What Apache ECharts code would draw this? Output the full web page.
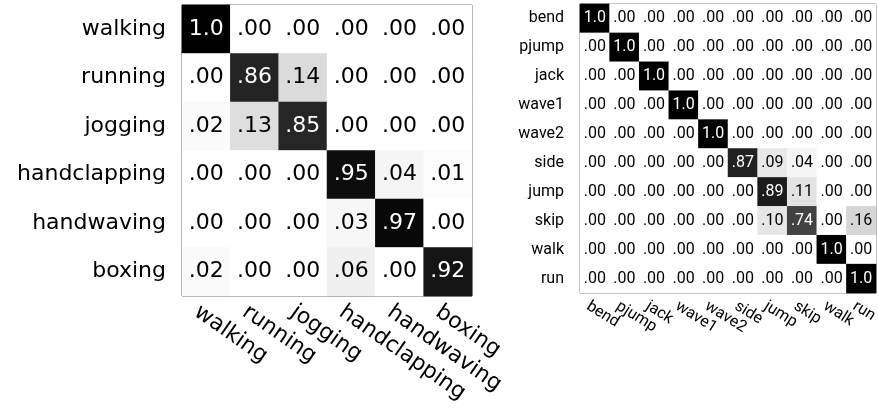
<!DOCTYPE html>
<html>
<head>
<meta charset="utf-8">
<script src="https://cdn.jsdelivr.net/npm/echarts@6/dist/echarts.min.js"></script>
<style>
html, body { margin: 0; background: #fff; }
#chart { width: 878px; height: 408px; }
</style>
</head>
<body>
<div id="chart"></div>
<script>
// KTH actions (left)
const kthClasses = ['walking', 'running', 'jogging', 'handclapping', 'handwaving', 'boxing'];
const kthMatrix = [
  [1.0, .00, .00, .00, .00, .00],
  [.00, .86, .14, .00, .00, .00],
  [.02, .13, .85, .00, .00, .00],
  [.00, .00, .00, .95, .04, .01],
  [.00, .00, .00, .03, .97, .00],
  [.02, .00, .00, .06, .00, .92]
];

// Weizmann actions (right)
const weizClasses = ['bend', 'pjump', 'jack', 'wave1', 'wave2', 'side', 'jump', 'skip', 'walk', 'run'];
const weizMatrix = [
  [1.0, .00, .00, .00, .00, .00, .00, .00, .00, .00],
  [.00, 1.0, .00, .00, .00, .00, .00, .00, .00, .00],
  [.00, .00, 1.0, .00, .00, .00, .00, .00, .00, .00],
  [.00, .00, .00, 1.0, .00, .00, .00, .00, .00, .00],
  [.00, .00, .00, .00, 1.0, .00, .00, .00, .00, .00],
  [.00, .00, .00, .00, .00, .87, .09, .04, .00, .00],
  [.00, .00, .00, .00, .00, .00, .89, .11, .00, .00],
  [.00, .00, .00, .00, .00, .00, .10, .74, .00, .16],
  [.00, .00, .00, .00, .00, .00, .00, .00, 1.0, .00],
  [.00, .00, .00, .00, .00, .00, .00, .00, .00, 1.0]
];

const fmt = v => v >= 1 ? '1.0' : '.' + String(Math.round(v * 100)).padStart(2, '0');

const toCells = m => {
  const out = [];
  m.forEach((row, r) => row.forEach((v, c) => {
    out.push({ value: [c, r, v], label: { color: v > 0.5 ? '#fff' : '#000' } });
  }));
  return out;
};

const hidden = { axisLine: { show: false }, axisTick: { show: false }, splitLine: { show: false } };

const chart = echarts.init(document.getElementById('chart'));

chart.setOption({
  animation: false,
  grid: [
    { left: 182, top: 5, width: 290, height: 291, outerBoundsMode: 'none', show: true, borderColor: '#444', borderWidth: 1, backgroundColor: 'transparent' },
    { left: 580, top: 4, width: 296, height: 289, outerBoundsMode: 'none', show: true, borderColor: '#666', borderWidth: 1, backgroundColor: 'transparent' },
    // same grids nudged left, only used to place the slanted column labels
    { left: 172, top: 5, width: 290, height: 291, outerBoundsMode: 'none' },
    { left: 573, top: 4, width: 296, height: 289, outerBoundsMode: 'none' }
  ],
  visualMap: {
    show: false,
    min: 0,
    max: 1,
    dimension: 2,
    seriesIndex: [0, 1],
    inRange: { color: ['#ffffff', '#000000'] }
  },
  xAxis: [
    { gridIndex: 0, type: 'category', data: kthClasses, ...hidden, axisLabel: { show: false } },
    { gridIndex: 1, type: 'category', data: weizClasses, ...hidden, axisLabel: { show: false } },
    {
      gridIndex: 2, type: 'category', data: kthClasses, ...hidden,
      axisLabel: { rotate: -35, margin: 14, fontFamily: 'DejaVu Sans', fontSize: 22, color: '#000', interval: 0 }
    },
    {
      gridIndex: 3, type: 'category', data: weizClasses, ...hidden,
      axisLabel: { rotate: -32, margin: 12, fontFamily: 'Roboto', fontSize: 16, color: '#000', interval: 0 }
    }
  ],
  yAxis: [
    {
      gridIndex: 0, type: 'category', data: kthClasses, inverse: true, ...hidden,
      axisLabel: { margin: 16, fontFamily: 'DejaVu Sans', fontSize: 22, color: '#000', interval: 0 }
    },
    {
      gridIndex: 1, type: 'category', data: weizClasses, inverse: true, ...hidden,
      axisLabel: { margin: 16, fontFamily: 'Roboto', fontSize: 16, color: '#000', interval: 0 }
    },
    { gridIndex: 2, type: 'category', data: kthClasses, show: false },
    { gridIndex: 3, type: 'category', data: weizClasses, show: false }
  ],
  series: [
    {
      type: 'heatmap', xAxisIndex: 0, yAxisIndex: 0,
      data: toCells(kthMatrix),
      label: { show: true, fontFamily: 'DejaVu Sans', fontSize: 22, formatter: p => fmt(p.value[2]) }
    },
    {
      type: 'heatmap', xAxisIndex: 1, yAxisIndex: 1,
      data: toCells(weizMatrix),
      label: { show: true, fontFamily: 'Roboto', fontSize: 16, formatter: p => fmt(p.value[2]) }
    }
  ]
});
</script>
</body>
</html>
